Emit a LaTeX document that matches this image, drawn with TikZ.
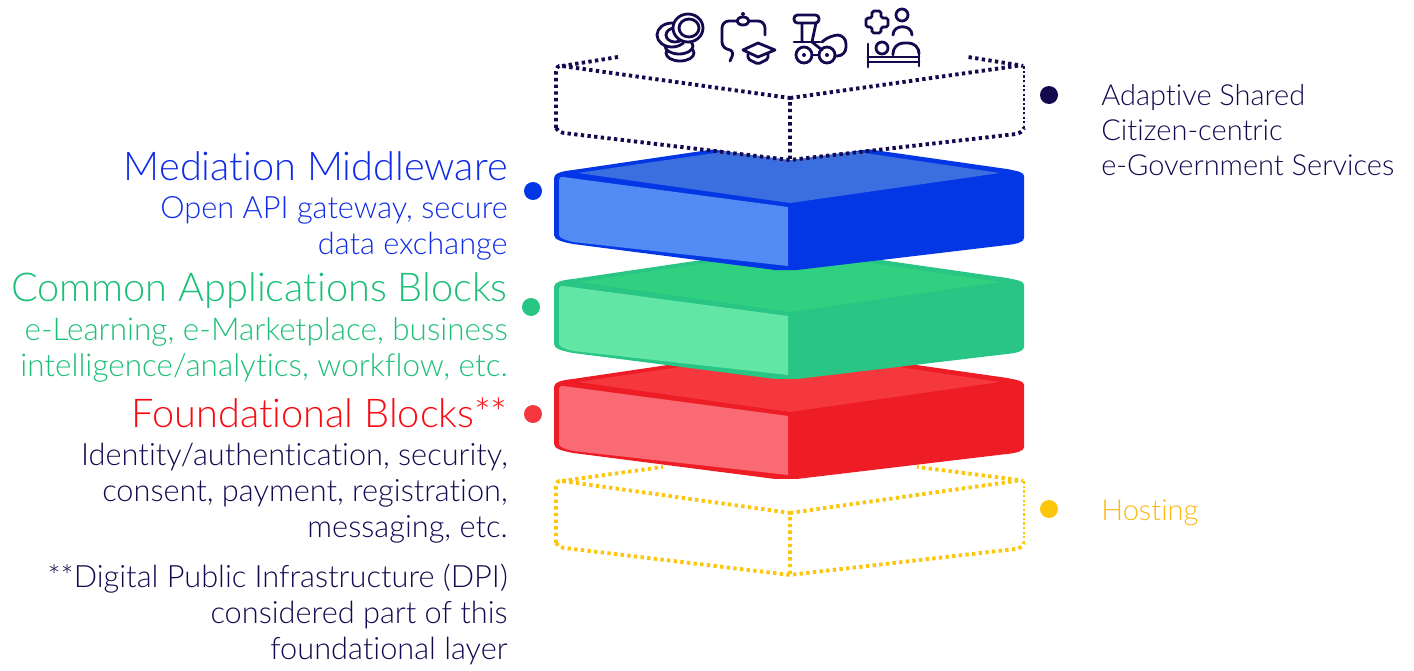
\documentclass[tikz,border=0pt]{standalone}
\usepackage{fontspec}
\setmainfont{Lato Light}[Ligatures=NoCommon]
\usepackage{xcolor}
\usetikzlibrary{positioning}
\definecolor{navy}{HTML}{14084F}
\definecolor{amber}{HTML}{FDC60A}
\definecolor{ambertxt}{HTML}{FBB814}
\definecolor{bluetxt}{HTML}{0F2BE6}
\definecolor{greentxt}{HTML}{1CBF78}
\definecolor{redtxt}{HTML}{FA0A10}
\definecolor{blueline}{HTML}{0336E4}
\definecolor{bluetop}{HTML}{3B6FE0}
\definecolor{blueface}{HTML}{528BF4}
\definecolor{greenline}{HTML}{28C584}
\definecolor{greentop}{HTML}{2FD07F}
\definecolor{greenface}{HTML}{62E6A6}
\definecolor{redline}{HTML}{EE1C25}
\definecolor{redtop}{HTML}{F5383D}
\definecolor{redface}{HTML}{F96A74}

% one slab of the stack: #1 edge, #2 top, #3 light face
\newcommand{\slab}[3]{
  \fill[#1] (554,178) .. controls (554,173) and (563,171) .. (573,170) -- (790,138) -- (1007,169)
    .. controls (1017,171) and (1024,172) .. (1024,176) -- (1024,238)
    .. controls (1024,242) and (1017,244) .. (1007,245) -- (797,270) -- (775,270) -- (573,244)
    .. controls (563,242) and (554,240) .. (554,235) -- cycle;
  \fill[#2] (578,173) -- (790,142) -- (1000,173) -- (790,203) -- cycle;
  \fill[#3] (559,180) .. controls (559,177) and (561,177) .. (563,177) -- (788,207) -- (788,266) -- (573,242)
    .. controls (565,240) and (559,238) .. (559,235) -- cycle;
}
% an empty box of the stack, front part only
\newcommand{\emptybox}[1]{
  \fill[white] (556,68) -- (790,98) -- (1024,66) -- (1024,128) -- (790,160) -- (556,128) -- cycle;
  \draw[dotline, #1] (556,128) -- (556,72) .. controls (556,68) and (558,65) .. (562,66) -- (790,98) -- (790,160);
  \draw[dotline, #1] (790,98) -- (1016,66) .. controls (1020,65) and (1022,65) .. (1023,66);
  \draw[dotline, #1] (556,128) .. controls (557,131) and (560,132) .. (564,133) -- (790,160) -- (1016,134)
    .. controls (1020,133) and (1023,131) .. (1024,128);
  \draw[dotthin, #1] (1024,128) -- (1024,66);
}

\begin{document}
\begin{tikzpicture}[x=0.02cm, y=-0.02cm,
  head/.style={anchor=base east, inner sep=0pt, font=\fontsize{22.6pt}{24pt}\selectfont},
  sub/.style={anchor=north east, inner sep=0pt, align=right, font=\fontsize{17.5pt}{20.5pt}\selectfont},
  side/.style={anchor=north west, inner sep=0pt, align=left, font=\fontsize{16.5pt}{19.9pt}\selectfont},
  marker/.style={circle, inner sep=0pt, minimum size=0.36cm},
  dotline/.style={line width=2.2pt, dash pattern=on 1.9pt off 1.9pt},
  dotthin/.style={line width=0.9pt, dash pattern=on 1.3pt off 1.3pt},
  icon/.style={navy, line width=1.6pt, line cap=round, line join=round, rounded corners=4pt}
]
\useasboundingbox (0,0) rectangle (1414,670);

% hosting box first, the red slab sits on it
\begin{scope}[yshift=-8.3cm]
  \draw[dotline, amber] (562,66) -- (663,52);
  \draw[dotline, amber] (1018,65) -- (917,52);
  \emptybox{amber}
\end{scope}
\begin{scope}[yshift=-4.18cm] \slab{redline}{redtop}{redface} \end{scope}
\begin{scope}[yshift=-2.18cm] \slab{greenline}{greentop}{greenface} \end{scope}
\slab{blueline}{bluetop}{blueface}

% services box
\draw[dotline, navy] (562,66) -- (618,57);
\draw[dotline, navy] (1018,65) -- (968,57);
\emptybox{navy}

% coins
\draw[icon, fill=white] (680,53) ellipse (14 and 8);
\draw[icon, fill=white] (679,46) ellipse (14 and 8);
\draw[icon, fill=white] (672,35) ellipse (15 and 12);
\draw[icon] (675,35) ellipse (9 and 7);
\draw[icon, fill=white] (688,28) ellipse (15 and 14);
\draw[icon] (689,28) ellipse (10 and 9);

% mortar board
\draw[icon] (737,21) -- (722,21) -- (722,49) -- (735,50) -- (730,61);
\draw[icon] (749,21) -- (765,21) -- (765,35);
\draw[icon] (743,21) ellipse (6 and 4);
\fill[navy] (743,14) circle (2);
\draw[icon, rounded corners=0pt] (743,50) -- (758,43) -- (775,50) -- (758,57) -- cycle;
\draw[icon, rounded corners=1pt] (748,54) -- (748,59) -- (758,64) -- (768,59) -- (768,54);

% tractor
\draw[icon, rounded corners=2pt] (794,15) rectangle (819,23);
\draw[icon, rounded corners=0pt] (802,23) -- (802,42) (816,23) -- (812,42) -- (822,50);
\draw[icon, rounded corners=0pt] (794,42) -- (820,42);
\draw[icon] (804,55) circle (8);
\fill[navy] (804,55) circle (2);
\draw[icon] (827,55) circle (8);
\fill[navy] (827,55) circle (2);
\draw[icon, rounded corners=0pt] (812,55) -- (819,55);
\draw[icon, rounded corners=5pt] (822,42) -- (830,35) -- (846,35) -- (846,56) -- (835,56);

% bed and patient
\draw[icon, rounded corners=1pt] (872,11) -- (881,11) -- (881,18) -- (888,18) -- (888,27) -- (881,27) -- (881,33) -- (872,33)
  -- (872,27) -- (866,27) -- (866,18) -- (872,18) -- cycle;
\draw[icon] (902,15) circle (6);
\draw[icon, rounded corners=0pt] (893,35) .. controls (893,24) and (912,24) .. (912,35);
\draw[icon, rounded corners=0pt] (868,44) -- (868,67) (919,50) -- (919,66) (868,57) -- (919,57) (868,62) -- (919,62);
\draw[icon] (882,48) circle (6);
\draw[icon, rounded corners=6pt] (893,55) -- (893,43) -- (919,43) -- (919,52);

% markers
\node[marker, fill=blueline] (mid dot) at (533,191) {};
\node[marker, fill=greenline] (app dot) at (531,307) {};
\node[marker, fill=redtop] (fnd dot) at (533,414) {};
\node[marker, fill=navy] (svc dot) at (1049,95) {};
\node[marker, fill=amber] (host dot) at (1049,509) {};

% left texts
\node[head, text=bluetxt] (mid) at (508,180) {Mediation Middleware};
\node[sub, text=bluetxt, below=0.32cm of mid.base east, anchor=north east] (mid sub) {Open API gateway, secure\\data exchange};
\node[head, text=greentxt] (app) at (508,301) {Common Applications Blocks};
\node[sub, text=greentxt, below=0.32cm of app.base east, anchor=north east, font=\fontsize{17.9pt}{20.5pt}\selectfont] (app sub) {e-Learning, e-Marketplace, business\\intelligence/analytics, workflow, etc.};
\node[head, text=redtxt] (fnd) at (508,427) {Foundational Blocks**};
\node[sub, text=navy, below=0.32cm of fnd.base east, anchor=north east] (fnd sub) {Identity/authentication, security,\\consent, payment, registration,\\messaging, etc.};
\node[sub, text=navy, below=0.4cm of fnd sub.south east, anchor=north east] (dpi) {**Digital Public Infrastructure (DPI)\\considered part of this\\foundational layer};

% right texts
\node[side, text=navy] (svc) at (1101,84) {Adaptive Shared\\Citizen-centric\\e-Government Services};
\node[side, text=ambertxt] (host) at (1101,499) {Hosting};
\end{tikzpicture}
\end{document}
